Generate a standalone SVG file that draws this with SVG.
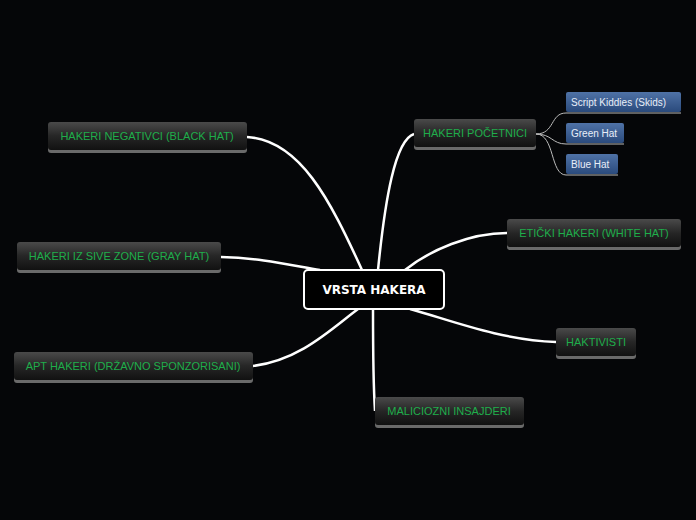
<svg xmlns="http://www.w3.org/2000/svg" width="696" height="520" viewBox="0 0 696 520">
<defs>
<linearGradient id="g" x1="0" y1="0" x2="0" y2="1"><stop offset="0" stop-color="#4a4a4a"/><stop offset="0.5" stop-color="#262626"/><stop offset="1" stop-color="#111"/></linearGradient>
<linearGradient id="b" x1="0" y1="0" x2="0" y2="1"><stop offset="0" stop-color="#4f72a6"/><stop offset="1" stop-color="#2a4a7c"/></linearGradient>
</defs>
<style>
.n{fill:url(#g)}
.sh{fill:#6a6a6a}
.t{font-family:"Liberation Sans",sans-serif;font-size:11px;fill:#1fae4b;text-anchor:middle;dominant-baseline:central}
.s{fill:url(#b)}
.st{font-family:"Liberation Sans",sans-serif;font-size:10px;fill:#e8eef8;text-anchor:start;dominant-baseline:central}
.c{fill:none;stroke:#fff;stroke-width:2.5}
.c2{fill:none;stroke:#bbb;stroke-width:1}
</style>
<rect width="696" height="520" fill="#050608"/>
<g id="connectors">
<path class="c" d="M247,137 C300,140 330,200 362,270"/>
<path class="c" d="M221,257 C260,258 290,265 320,270"/>
<path class="c" d="M253,366 C300,360 330,330 358,309"/>
<path class="c" d="M375,411 C373,380 373,340 373,309"/>
<path class="c" d="M556,342 C500,340 450,320 410,309"/>
<path class="c" d="M507,233 C470,233 430,250 405,270"/>
<path class="c" d="M414,134 C395,140 385,200 378,270"/>
<path class="c2" d="M536,134 C555,134 550,113 566,113 L681,113"/>
<path class="c2" d="M536,134 C552,134 552,144 566,144 L624,144"/>
<path class="c2" d="M536,134 C555,134 550,175 566,175 L618,175"/>
</g>
<g id="center"><rect x="304" y="270" width="140" height="39" rx="4" fill="#000" stroke="#fff" stroke-width="2"/><text x="374" y="290" style="font-family:'DejaVu Sans',sans-serif;font-size:12px;font-weight:bold;fill:#fff;text-anchor:middle;dominant-baseline:central">VRSTA HAKERA</text></g>
<g id="black"><rect class="sh" x="48" y="124" width="199" height="29" rx="3"/><rect class="n" x="48" y="122" width="199" height="28" rx="3"/><text class="t" x="147" y="136">HAKERI NEGATIVCI (BLACK HAT)</text></g>
<g id="gray"><rect class="sh" x="17" y="244" width="204" height="29" rx="3"/><rect class="n" x="17" y="242" width="204" height="28" rx="3"/><text class="t" x="119" y="256">HAKERI IZ SIVE ZONE (GRAY HAT)</text></g>
<g id="apt"><rect class="sh" x="14" y="354" width="239" height="29" rx="3"/><rect class="n" x="14" y="352" width="239" height="28" rx="3"/><text class="t" x="133" y="366">APT HAKERI (DRŽAVNO SPONZORISANI)</text></g>
<g id="mal"><rect class="sh" x="375" y="399" width="149" height="29" rx="3"/><rect class="n" x="375" y="397" width="149" height="28" rx="3"/><text class="t" x="449" y="411">MALICIOZNI INSAJDERI</text></g>
<g id="hak"><rect class="sh" x="556" y="330" width="80" height="29" rx="3"/><rect class="n" x="556" y="328" width="80" height="28" rx="3"/><text class="t" x="596" y="342">HAKTIVISTI</text></g>
<g id="eti"><rect class="sh" x="507" y="221" width="174" height="29" rx="3"/><rect class="n" x="507" y="219" width="174" height="28" rx="3"/><text class="t" x="594" y="233">ETIČKI HAKERI (WHITE HAT)</text></g>
<g id="poc"><rect class="sh" x="414" y="121" width="122" height="29" rx="3"/><rect class="n" x="414" y="119" width="122" height="28" rx="3"/><text class="t" x="475" y="133">HAKERI POČETNICI</text></g>
<g id="script"><rect class="s" x="566" y="92" width="115" height="20" rx="2"/><text class="st" x="571" y="102">Script Kiddies (Skids)</text></g>
<g id="green"><rect class="s" x="566" y="123" width="58" height="20" rx="2"/><text class="st" x="571" y="133">Green Hat</text></g>
<g id="blue"><rect class="s" x="566" y="154" width="52" height="20" rx="2"/><text class="st" x="571" y="164">Blue Hat</text></g>
</svg>
